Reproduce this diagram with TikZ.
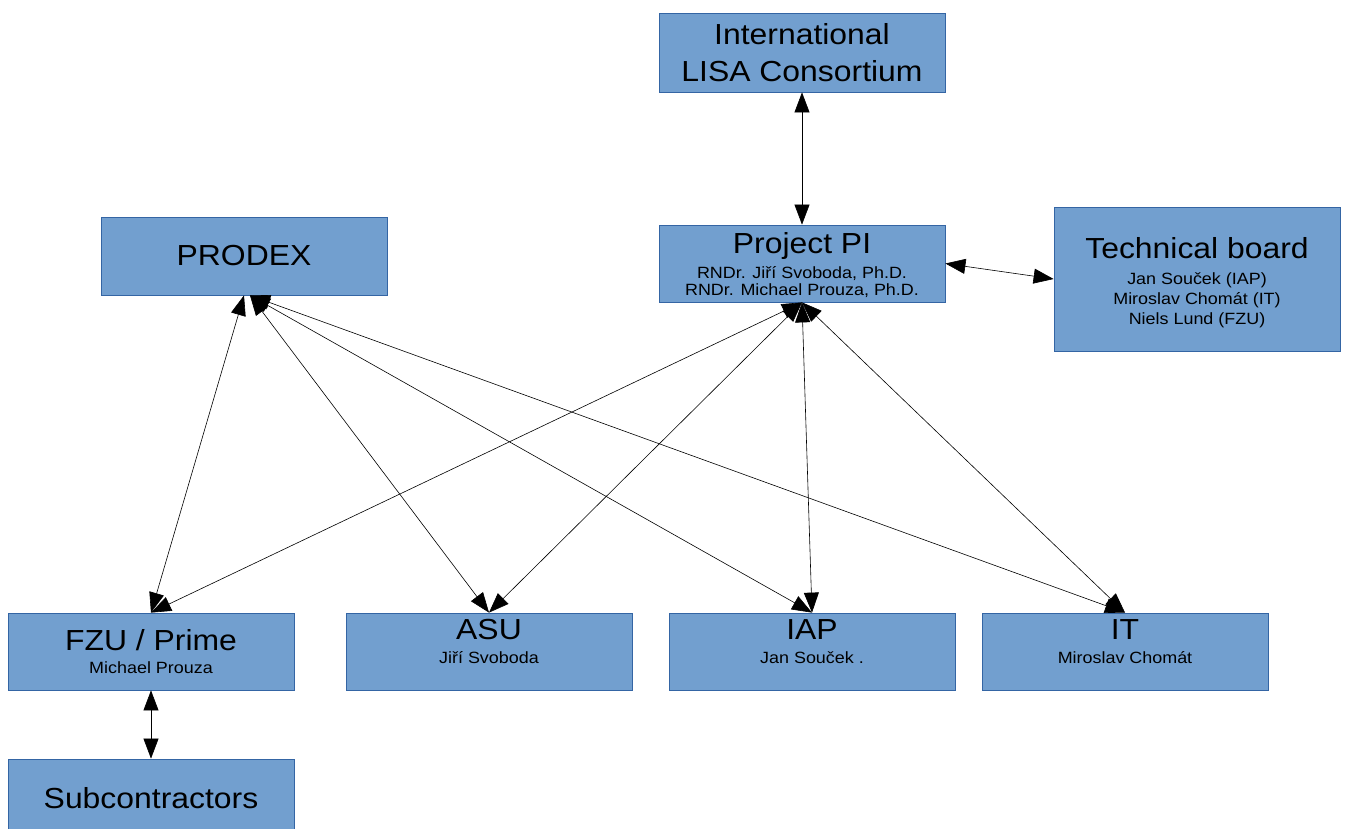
\documentclass[tikz,border=0pt]{standalone}
\usepackage{fontspec}
\setmainfont{Liberation Sans}[FakeStretch=1.1]
\usetikzlibrary{arrows.meta}
\definecolor{boxfill}{RGB}{114,159,207}
\definecolor{boxline}{RGB}{52,101,164}
\newcommand\titf{\fontsize{29}{37}\selectfont}
\newcommand\subf{\fontsize{16.3}{20}\selectfont}
\begin{document}
\begin{tikzpicture}[x=1pt,y=-1pt,
  box/.style={draw=boxline,line width=0.8pt,fill=boxfill,minimum width=286pt,
    minimum height=77pt,inner sep=0pt,align=center,font=\subf},
  tbox/.style={box,font=\titf},
  inlbl/.style={font=\subf,align=center},
  link/.style={line width=0.6pt,
    {Triangle[length=20pt,width=15pt]}-{Triangle[length=20pt,width=15pt]}}]
\useasboundingbox (0,0) rectangle (1345,828);
\clip (0,0) rectangle (1345,828);
\fill[white] (0,0) rectangle (1345,828);

% boxes
\node[tbox,minimum height=79pt] (ilc) at (802,52.5) {International\\LISA Consortium};
\node[box,label={[inlbl,yshift=-1.5pt]center:{{\titf Project PI}\\[5pt]RNDr. Jiří Svoboda, Ph.D.\\[-3pt]RNDr. Michael Prouza, Ph.D.}}] (pi) at (802,263.5) {};
\node[box,minimum height=144pt,label={[inlbl,yshift=-3.5pt]center:{{\titf Technical board}\\[6pt]Jan Souček (IAP)\\[0pt]Miroslav Chomát (IT)\\[0pt]Niels Lund (FZU)}}] (tb) at (1197,279) {};
\node[tbox,minimum height=78pt] (prodex) at (244,256) {PRODEX};
\node[box] (fzu) at (151,651.5) {{\titf FZU / Prime}\\[3.5pt]Michael Prouza};
\node[box,label={[inlbl,yshift=10pt]center:{{\titf ASU}\\[3.5pt]Jiří Svoboda}}] (asu) at (489,651.5) {};
\node[box,label={[inlbl,yshift=10pt]center:{{\titf IAP}\\[3.5pt]Jan Souček .}}] (iap) at (812,651.5) {};
\node[box,label={[inlbl,yshift=10pt]center:{{\titf IT}\\[3.5pt]Miroslav Chomát}}] (it) at (1125,651.5) {};
\node[tbox,minimum height=78pt] (sub) at (151,798) {Subcontractors};

% connectors
\draw[link] (pi.north) -- (ilc.south);
\draw[link] (pi.east) -- (tb.west);
\draw[link] (fzu.north) -- (prodex.south);
\draw[link] (asu.north) -- ([xshift=6pt]prodex.south);
\draw[link] (iap.north) -- ([xshift=6pt]prodex.south);
\draw[link] (it.north) -- ([xshift=6pt]prodex.south);
\draw[link] (fzu.north) -- (pi.south);
\draw[link] (asu.north) -- (pi.south);
\draw[link] (iap.north) -- (pi.south);
\draw[link] (it.north) -- (pi.south);
\draw[link] (fzu.south) -- (sub.north);
\end{tikzpicture}
\end{document}
